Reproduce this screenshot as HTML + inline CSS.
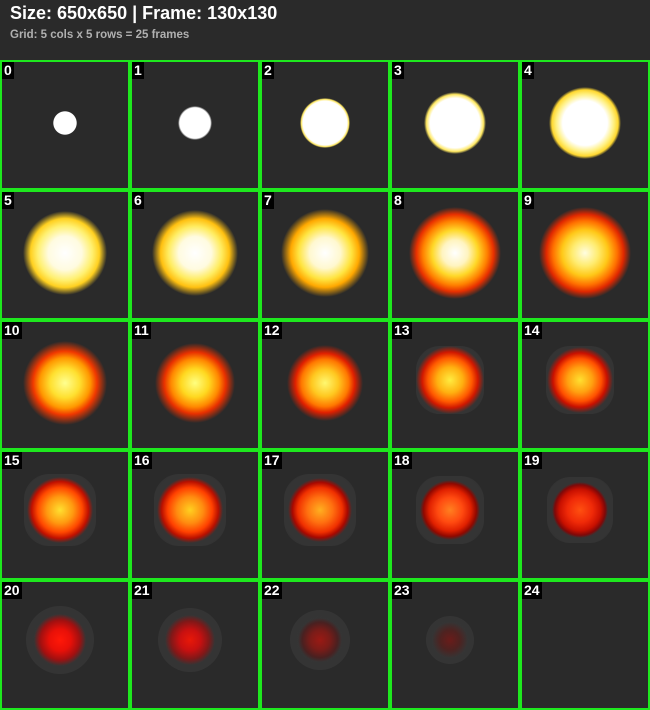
<!DOCTYPE html>
<html><head><meta charset="utf-8">
<style>
body{margin:0;width:650px;height:710px;background:#2a2a2a;overflow:hidden;font-family:"Liberation Sans",sans-serif}
#hdr{position:absolute;left:0;top:0;width:650px;height:60px}
#t1{position:absolute;left:10px;top:3px;color:#fff;font-weight:bold;font-size:18px}
#t2{position:absolute;left:10px;top:29px;color:#b0b0b0;font-weight:bold;font-size:11.5px}
#grid{position:absolute;left:0;top:60px;width:650px;height:650px}
.cell{position:absolute;width:126px;height:126px;border:2px solid #1ee81e;background:#2a2a2a;overflow:hidden}
.lbl{position:absolute;left:0;top:0;background:#000;color:#fff;font-weight:bold;font-size:14px;padding:0 2px;line-height:17px}
.blob{position:absolute;border-radius:50%}
</style></head><body>
<div id="hdr">
<div id="t1">Size: 650x650 | Frame: 130x130</div>
<div id="t2">Grid: 5 cols x 5 rows = 25 frames</div>
</div>
<div id="grid"></div>
<script>
const frames=[0,1,2,3,4,5,6,7,8,9,10,11,12,13,14,15,16,17,18,19,20,21,22,23,24];
const radii=[12,17,25,31,36,42,43,44,46,46,42,40,38,34,33,33,33,32,30,28,26,25,22,18,0];
const smoke=[0,0,0,0,0,0,0,0,0,0,0,0,0,34,34,36,36,36,34,33,34,32,30,24,0];
const grads=[
"#fff 0,#fff 95%,transparent 100%",
"#fff 0,#fff 90%,transparent 100%",
"#fff 0,#fff 88%,#ffe860 95%,transparent 100%",
"#fff 0,#fff 80%,#ffe860 92%,transparent 100%",
"#fff 0,#fff 62%,#fff080 80%,#ffd830 92%,transparent 100%",
"#fff 0,#fffbe0 40%,#fff070 65%,#ffd020 82%,rgba(255,190,0,0) 100%",
"#fff 0,#fffbe0 38%,#ffec60 62%,#ffc010 80%,rgba(255,170,0,0) 100%",
"#fff 0,#fff8d0 35%,#ffe440 60%,#ffa800 78%,rgba(255,120,0,0) 100%",
"#fff 0,#fff4c0 28%,#ffd828 50%,#ff8000 70%,#e83000 84%,rgba(220,20,0,0) 100%",
"#fffde0 0,#ffec70 28%,#ffc818 50%,#ff7000 70%,#e02800 84%,rgba(210,0,0,0) 100%",
"#ffff90 0,#ffe030 35%,#ff9800 60%,#f03800 76%,rgba(210,0,0,0) 100%",
"#ffff80 0,#ffd820 35%,#ff8800 60%,#e83000 77%,rgba(200,0,0,0) 100%",
"#fff870 0,#ffc820 35%,#ff7800 62%,#e02000 78%,rgba(200,0,0,0) 100%",
"#ffec40 0,#ffb010 38%,#ff5800 65%,#d01800 82%,rgba(180,0,0,0) 100%",
"#ffe030 0,#ffa010 38%,#ff5000 65%,#c81000 82%,rgba(180,0,0,0) 100%",
"#ffe030 0,#ff9a10 40%,#ff4800 68%,#c01000 86%,rgba(160,0,0,0) 100%",
"#ffd020 0,#ff8c10 40%,#ff4000 68%,#b81000 86%,rgba(160,0,0,0) 100%",
"#ffb020 0,#ff7010 40%,#f03000 70%,#a80800 86%,rgba(150,0,0,0) 100%",
"#ff8020 0,#ff4a10 42%,#e02000 70%,#900800 88%,rgba(140,0,0,0) 100%",
"#ff5010 0,#f02a08 45%,#c81000 74%,#800808 90%,rgba(120,0,0,0) 100%",
"#ff1808 0,#e81008 42%,#a01010 76%,rgba(120,20,20,0) 100%",
"#e81808 0,#c81010 42%,#801818 76%,rgba(100,20,20,0) 100%",
"#9a1a14 0,#7a1c18 45%,#4a2020 80%,rgba(60,30,30,0) 100%",
"#6a1c1a 0,#4e2220 55%,rgba(50,40,40,0) 100%",
"transparent 0,transparent 100%"];
const grid=document.getElementById('grid');
frames.forEach((f,i)=>{
  const c=document.createElement('div');c.className='cell';
  c.style.left=(i%5)*130+'px';c.style.top=Math.floor(i/5)*130+'px';
  
  
  const cx=i>=13?58:63, cy=i>=13?58:61;
  if(smoke[i]>0){
    const s=document.createElement('div');s.className='blob';
    const r=smoke[i];
    s.style.left=(cx-r)+'px';s.style.top=(cy-r)+'px';s.style.width=2*r+'px';s.style.height=2*r+'px';
    s.style.borderRadius=i<20?'35%':'50%';
    s.style.background='radial-gradient(circle,#363636 0,#343434 75%,rgba(42,42,42,0) 100%)';
    
    
    c.appendChild(s);
  }
  if(radii[i]>0){
    const b=document.createElement('div');b.className='blob';
    const r=radii[i];
    b.style.left=(cx-r)+'px';b.style.top=(cy-r)+'px';b.style.width=2*r+'px';b.style.height=2*r+'px';
    b.style.background='radial-gradient(circle closest-side,'+grads[i]+')';
    
    
    c.appendChild(b);
  }
  const l=document.createElement('div');l.className='lbl';l.textContent=f;
  
  
  c.appendChild(l);
  grid.appendChild(c);
});
</script>
</body></html>
